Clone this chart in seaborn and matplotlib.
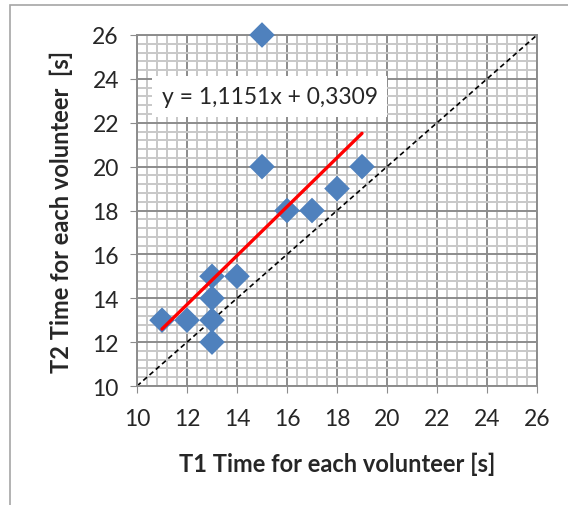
import numpy as np
import pandas as pd
import matplotlib.pyplot as plt
import seaborn as sns
from matplotlib.ticker import MultipleLocator

# reaction times per volunteer
t1 = [11, 12, 13, 13, 13, 13, 14, 15, 15, 16, 17, 18, 19]
t2 = [13, 13, 12, 13, 14, 15, 15, 20, 26, 18, 18, 19, 20]
slope = 1.1151
intercept = 0.3309
eq_text = 'y = 1,1151x + 0,3309'
ticks = [10, 12, 14, 16, 18, 20, 22, 24, 26]

df = pd.DataFrame({'T1': t1, 'T2': t2})

sns.set_style('white')
plt.rcParams['font.family'] = ['Lato', 'DejaVu Sans']

fig = plt.figure(figsize=(5.68, 5.06), dpi=100)
ax = fig.add_axes([137/568, 1 - 387/506, 400/568, 351/506])

# outer chart border
fig.patches.append(plt.Rectangle((10/568, -0.1), 1.2, 1 - 6/506 + 0.1,
                                 transform=fig.transFigure, fill=False,
                                 edgecolor='#a6a6a6', linewidth=1.2))

ax.set_xlim(10, 26)
ax.set_ylim(10, 26)
ax.xaxis.set_minor_locator(MultipleLocator(0.4))
ax.yaxis.set_minor_locator(MultipleLocator(0.4))
ax.grid(which='minor', color='#c8c8c8', linewidth=1.4)
ax.grid(which='major', color='#8c8c8c', linewidth=1.4)
ax.set_axisbelow(True)

# y = x reference
ax.plot(ticks, ticks, color='black', linestyle=(0, (3, 2)), linewidth=1.2, zorder=2)

sns.scatterplot(data=df, x='T1', y='T2', marker='D', s=170, color='#4f81bd',
                edgecolor='none', ax=ax, zorder=3, clip_on=False)

xs = np.array([min(t1), max(t1)])
ax.plot(xs, slope * xs + intercept, color='#ff0000', linewidth=2.4, zorder=4)

ax.text(15.3, 23.2, eq_text, fontsize=16.5, ha='center', va='center', zorder=5,
        bbox=dict(facecolor='white', edgecolor='none', pad=7))

ax.set_xticks(ticks)
ax.set_yticks(ticks)
ax.tick_params(which='major', direction='out', length=5, color='#8c8c8c',
               labelsize=16.5, bottom=True, left=True, pad=8)
ax.tick_params(axis='x', pad=11)
ax.tick_params(which='minor', length=0)
for s in ax.spines.values():
    s.set_color('#8c8c8c')
    s.set_linewidth(1.4)

ax.set_xlabel('T1 Time for each volunteer [s]', fontsize=17, fontweight='bold', labelpad=16)
ax.set_ylabel('T2 Time for each volunteer  [s]', fontsize=17, fontweight='bold', labelpad=14)

fig.savefig('out.png', dpi=100)
